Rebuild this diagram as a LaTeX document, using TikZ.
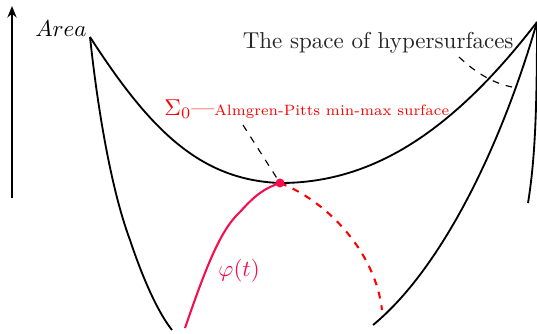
\documentclass[tikz,border=0pt]{standalone}
\usetikzlibrary{arrows.meta}
\definecolor{pinkred}{rgb}{0.96,0.05,0.3}
\begin{document}
\begin{tikzpicture}[x=0.4348pt,y=-0.4348pt,
  curve/.style={line width=0.8pt,black},
  lead/.style={dashed,line width=0.5pt,black},
  ]
\useasboundingbox (0,0) rectangle (537,333);
% axis
\coordinate (ax0) at (12,198);
\coordinate (ax1) at (12,6);
\draw[line width=0.8pt,-{Stealth[length=5pt,width=4pt]}] (ax0) -- (ax1);
\node[anchor=base east,inner sep=0pt] (area) at (87,36) {$Area$};
% key points
\coordinate (L) at (90,37);
\coordinate (R) at (537,22);
\coordinate (M) at (280,183);
\coordinate (B1) at (172,330);
\coordinate (B2) at (373,325);
\coordinate (B3) at (528,203);
% valley curve
\draw[curve] (L) .. controls (150,130) and (200,180) .. (M)
  .. controls (370,183) and (450,135) .. (R);
% left steep curve
\draw[curve] (L) .. controls (100,130) and (115,200) .. (130,240)
  .. controls (145,285) and (160,315) .. (B1);
% right curves
\draw[curve] (R) .. controls (500,150) and (440,270) .. (B2);
\draw[curve] (R) .. controls (537,110) and (535,160) .. (B3);
% red path
\draw[pinkred,line width=0.9pt] (185,328) .. controls (205,270) and (220,230) .. (240,212)
  .. controls (255,195) and (265,188) .. (M);
\draw[red,dashed,line width=0.9pt] (M) .. controls (325,200) and (375,250) .. (382,310);
\fill[pinkred] (M) circle (4.5);
% labels
\node[anchor=base west,inner sep=0pt,red] (sig) at (164,115)
  {$\Sigma_0$---{\fontsize{6.5}{7}\selectfont Almgren-Pitts min-max surface}};
\coordinate (sl) at (243,125);
\draw[lead] (sl) -- (M);
\node[anchor=base east,inner sep=0pt,black!85] (space) at (514,48)
  {The space of hypersurfaces};
\coordinate (d0) at (459,57);
\coordinate (d1) at (512,87);
\draw[lead] (d0) .. controls (475,72) and (492,83) .. (d1);
\node[pinkred,anchor=base west,inner sep=0pt] (phi) at (218,276) {$\varphi(t)$};
\end{tikzpicture}
\end{document}
